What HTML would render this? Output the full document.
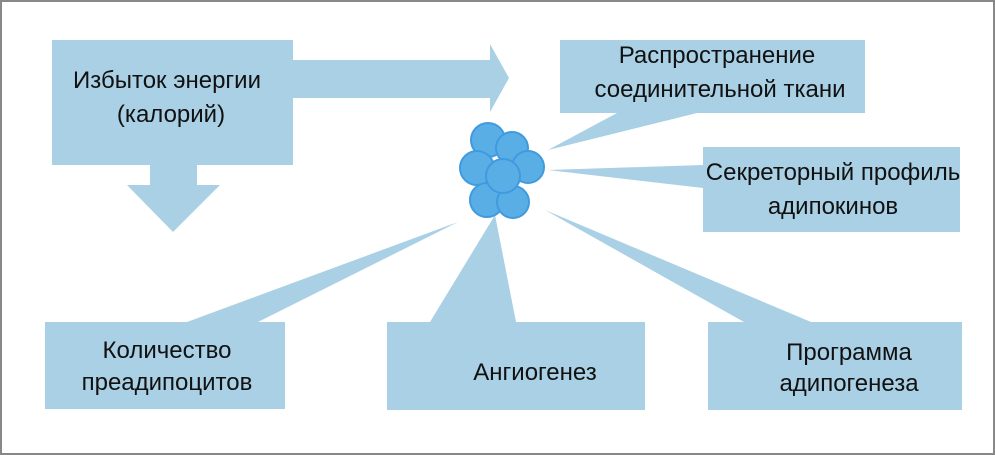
<!DOCTYPE html>
<html><head><meta charset="utf-8"><style>
html,body{margin:0;padding:0;background:#fff;}
svg{display:block;}
text{font-family:"Liberation Sans","Noto Sans CJK SC",sans-serif;font-size:24px;fill:#111;}
</style></head><body>
<svg width="995" height="455" viewBox="0 0 995 455" xmlns="http://www.w3.org/2000/svg">
<rect x="1" y="1" width="993" height="453" fill="#fff" stroke="#888" stroke-width="2"/>
<g fill="#a9d0e4">
<rect x="52" y="40" width="241" height="125"/>
<polygon points="293,60 490,60 490,44 509,78 490,112 490,98 293,98"/>
<polygon points="150,165 197,165 197,185 220,185 173,232 127,185 150,185"/>
<rect x="560" y="40" width="305" height="73"/>
<polygon points="617,113 697,113 548,150"/>
<rect x="703" y="147" width="257" height="85"/>
<polygon points="703,165 703,188 548,170"/>
<rect x="45" y="322" width="240" height="87"/>
<polygon points="187,322 258,322 458,222"/>
<rect x="387" y="322" width="258" height="88"/>
<polygon points="430,322 516,322 495,215"/>
<rect x="708" y="322" width="254" height="88"/>
<polygon points="744,322 811,322 545,210"/>
</g>
<g fill="#5aaee6" stroke="#3f9ade" stroke-width="2">
<circle cx="488" cy="140" r="17"/>
<circle cx="512" cy="148" r="16"/>
<circle cx="477" cy="168" r="17"/>
<circle cx="528" cy="167" r="16"/>
<circle cx="487" cy="200" r="17"/>
<circle cx="513" cy="202" r="16"/>
<circle cx="503" cy="176" r="17"/>
</g>
<text x="167" y="88" text-anchor="middle">Избыток энергии</text>
<text x="171" y="122" text-anchor="middle">(калорий)</text>
<text x="717" y="63" text-anchor="middle">Распространение</text>
<text x="720" y="97" text-anchor="middle">соединительной ткани</text>
<text x="833" y="180" text-anchor="middle">Секреторный профиль</text>
<text x="833" y="214" text-anchor="middle">адипокинов</text>
<text x="167" y="358" text-anchor="middle">Количество</text>
<text x="167" y="390" text-anchor="middle">преадипоцитов</text>
<text x="535" y="380" text-anchor="middle">Ангиогенез</text>
<text x="849" y="360" text-anchor="middle">Программа</text>
<text x="849" y="391" text-anchor="middle">адипогенеза</text>
</svg>
</body></html>
